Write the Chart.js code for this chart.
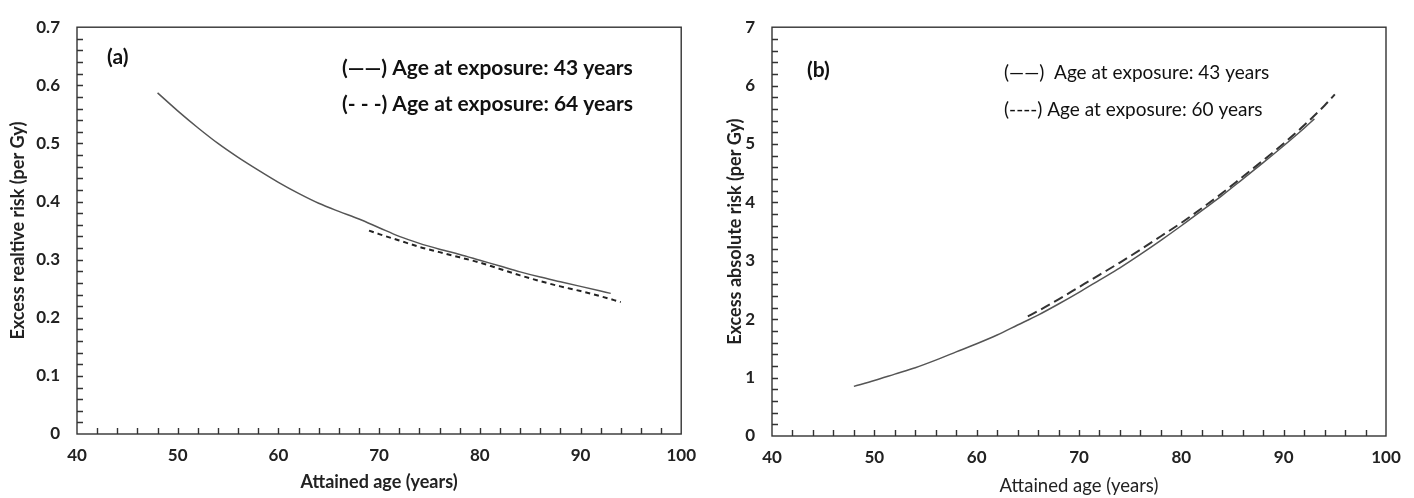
<!DOCTYPE html>
<html>
<head>
<meta charset="utf-8">
<script src="https://cdn.jsdelivr.net/npm/chart.js@4"></script>
<style>
  html, body { margin: 0; padding: 0; background: #fff; }
  #wrap { position: relative; width: 1414px; height: 498px; }
  .box { position: absolute; top: 0; width: 707px; height: 498px; }
</style>
</head>
<body>
<div id="wrap">
  <div class="box" style="left:0"><canvas id="chartA" width="707" height="498"></canvas></div>
  <div class="box" style="left:707px"><canvas id="chartB" width="707" height="498"></canvas></div>
</div>
<script>
// (a) excess relative risk
const agesA43 = [48, 50, 52, 54, 56, 58, 60, 62, 64, 66, 68, 70, 72, 74, 76, 78, 80, 82, 84, 86, 88, 90, 92, 93];
const errA43 = [0.587, 0.556, 0.527, 0.500, 0.476, 0.454, 0.433, 0.414, 0.397, 0.383, 0.370, 0.355, 0.340, 0.328, 0.318, 0.309, 0.299, 0.289, 0.279, 0.270, 0.262, 0.254, 0.246, 0.242];
const agesA64 = [69, 70, 72, 74, 76, 78, 80, 82, 84, 86, 88, 90, 92, 94];
const errA64 = [0.350, 0.344, 0.333, 0.322, 0.313, 0.304, 0.295, 0.284, 0.273, 0.263, 0.254, 0.246, 0.237, 0.227];

// (b) excess absolute risk
const agesB43 = [48, 50, 52, 54, 56, 58, 60, 62, 64, 66, 68, 70, 72, 74, 76, 78, 80, 82, 84, 86, 88, 90, 92, 93];
const earB43 = [0.85, 0.95, 1.06, 1.17, 1.30, 1.44, 1.58, 1.73, 1.90, 2.07, 2.26, 2.46, 2.67, 2.88, 3.11, 3.35, 3.60, 3.86, 4.12, 4.40, 4.68, 4.97, 5.27, 5.43];
const agesB60 = [65, 66, 68, 70, 72, 74, 76, 78, 80, 82, 84, 86, 88, 90, 92, 94, 95];
const earB60 = [2.05, 2.14, 2.34, 2.55, 2.76, 2.97, 3.19, 3.42, 3.65, 3.90, 4.16, 4.44, 4.72, 5.01, 5.32, 5.66, 5.85];

const xTicks = [40, 50, 60, 70, 80, 90, 100];
const yTicksA = [0, 0.1, 0.2, 0.3, 0.4, 0.5, 0.6, 0.7];
const yTicksB = [0, 1, 2, 3, 4, 5, 6, 7];

Chart.defaults.font.family = "Lato, 'Open Sans', sans-serif";
Chart.defaults.color = "#222";

const toPoints = (xs, ys) => xs.map((x, i) => ({ x: x, y: ys[i] }));

// box + inward tick marks + panel notes
const innerTicks = {
  id: "innerTicks",
  afterDraw(chart, args, opts) {
    const { ctx, chartArea: a, scales: { x, y } } = chart;
    ctx.save();
    ctx.strokeStyle = "#333";
    ctx.lineWidth = 1.4;
    ctx.beginPath();
    const nx = Math.round((x.max - x.min) / opts.xStep);
    for (let i = 1; i < nx; i++) {
      const px = Math.round(x.getPixelForValue(x.min + i * opts.xStep)) + 0.5;
      ctx.moveTo(px, a.bottom);
      ctx.lineTo(px, a.bottom - 6);
    }
    const ny = Math.round((y.max - y.min) / opts.yStep);
    for (let i = 1; i < ny; i++) {
      const py = Math.round(y.getPixelForValue(y.min + i * opts.yStep)) + 0.5;
      ctx.moveTo(a.left, py);
      ctx.lineTo(a.left + 6, py);
    }
    ctx.stroke();
    ctx.strokeRect(a.left, a.top, a.right - a.left, a.bottom - a.top);
    ctx.fillStyle = "#111";
    ctx.textBaseline = "middle";
    opts.notes.forEach(n => {
      ctx.font = n.font;
      ctx.fillText(n.text, n.x, n.y);
    });
    ctx.restore();
  }
};

function makeChart(id, sets, yMax, yMinor, yTitle, xTitleFont, pad, yWidth, xHeight, yTitlePad, xTitlePad, notes) {
  new Chart(document.getElementById(id), {
    type: "line",
    data: { datasets: sets },
    options: {
      responsive: false,
      animation: false,
      layout: { padding: pad },
      plugins: {
        legend: { display: false },
        tooltip: { enabled: false },
        innerTicks: { xStep: 2, yStep: yMinor, notes: notes }
      },
      elements: { point: { radius: 0 } },
      scales: {
        x: {
          type: "linear",
          min: 40, max: 100,
          afterBuildTicks: s => { s.ticks = xTicks.map(v => ({ value: v })); },
          grid: { display: false, drawTicks: false },
          border: { display: false },
          ticks: { font: { size: 17, weight: "bold" }, padding: 11, color: "#222" },
          title: { display: true, text: "Attained age (years)", font: xTitleFont, padding: { top: 0, bottom: xTitlePad }, color: "#222" },
          afterFit: s => { s.height = xHeight; }
        },
        y: {
          type: "linear",
          min: 0, max: yMax,
          afterBuildTicks: s => { s.ticks = (yMax < 1 ? yTicksA : yTicksB).map(v => ({ value: v })); },
          grid: { display: false, drawTicks: false },
          border: { display: false },
          ticks: { font: { size: 17, weight: "bold" }, padding: 17, color: "#222", callback: v => String(+v.toFixed(1)) },
          title: { display: true, text: yTitle, font: { size: 18, weight: "bold" }, padding: { top: yTitlePad, bottom: 0 }, color: "#222" },
          afterFit: s => { s.width = yWidth; }
        }
      }
    },
    plugins: [innerTicks]
  });
}

makeChart("chartA", [
  { data: toPoints(agesA43, errA43), borderColor: "#555", borderWidth: 1.5, tension: 0.4, cubicInterpolationMode: "monotone" },
  { data: toPoints(agesA64, errA64), borderColor: "#222", borderWidth: 2, borderDash: [5, 4], tension: 0.4, cubicInterpolationMode: "monotone" }
], 0.7, 0.02, "Excess realtive risk (per Gy)", { size: 18, weight: "bold" },
  { left: 0, right: 20, top: 21, bottom: 0 }, 77, 64, 7, 5,
  [
    { text: "(a)", x: 107, y: 57, font: "bold 21px Lato" },
    { text: "(\u2014\u2014) Age at exposure: 43 years", x: 342, y: 68, font: "bold 21px Lato" },
    { text: "(- - -) Age at exposure: 64 years", x: 342, y: 104, font: "bold 21px Lato" }
  ]);

makeChart("chartB", [
  { data: toPoints(agesB43, earB43), borderColor: "#555", borderWidth: 1.5, tension: 0.4, cubicInterpolationMode: "monotone" },
  { data: toPoints(agesB60, earB60), borderColor: "#333", borderWidth: 2, borderDash: [10, 5], tension: 0.4, cubicInterpolationMode: "monotone" }
], 7, 0.2, "Excess absolute risk (per Gy)", { size: 18.5, weight: "normal" },
  { left: 0, right: 28, top: 26, bottom: 0 }, 65, 62, 17, 1,
  [
    { text: "(b)", x: 100, y: 70, font: "bold 21px Lato" },
    { text: "(\u2014\u2014)  Age at exposure: 43 years", x: 297, y: 73, font: "19px Lato" },
    { text: "(----) Age at exposure: 60 years", x: 297, y: 110, font: "19px Lato" }
  ]);
</script>
</body>
</html>
